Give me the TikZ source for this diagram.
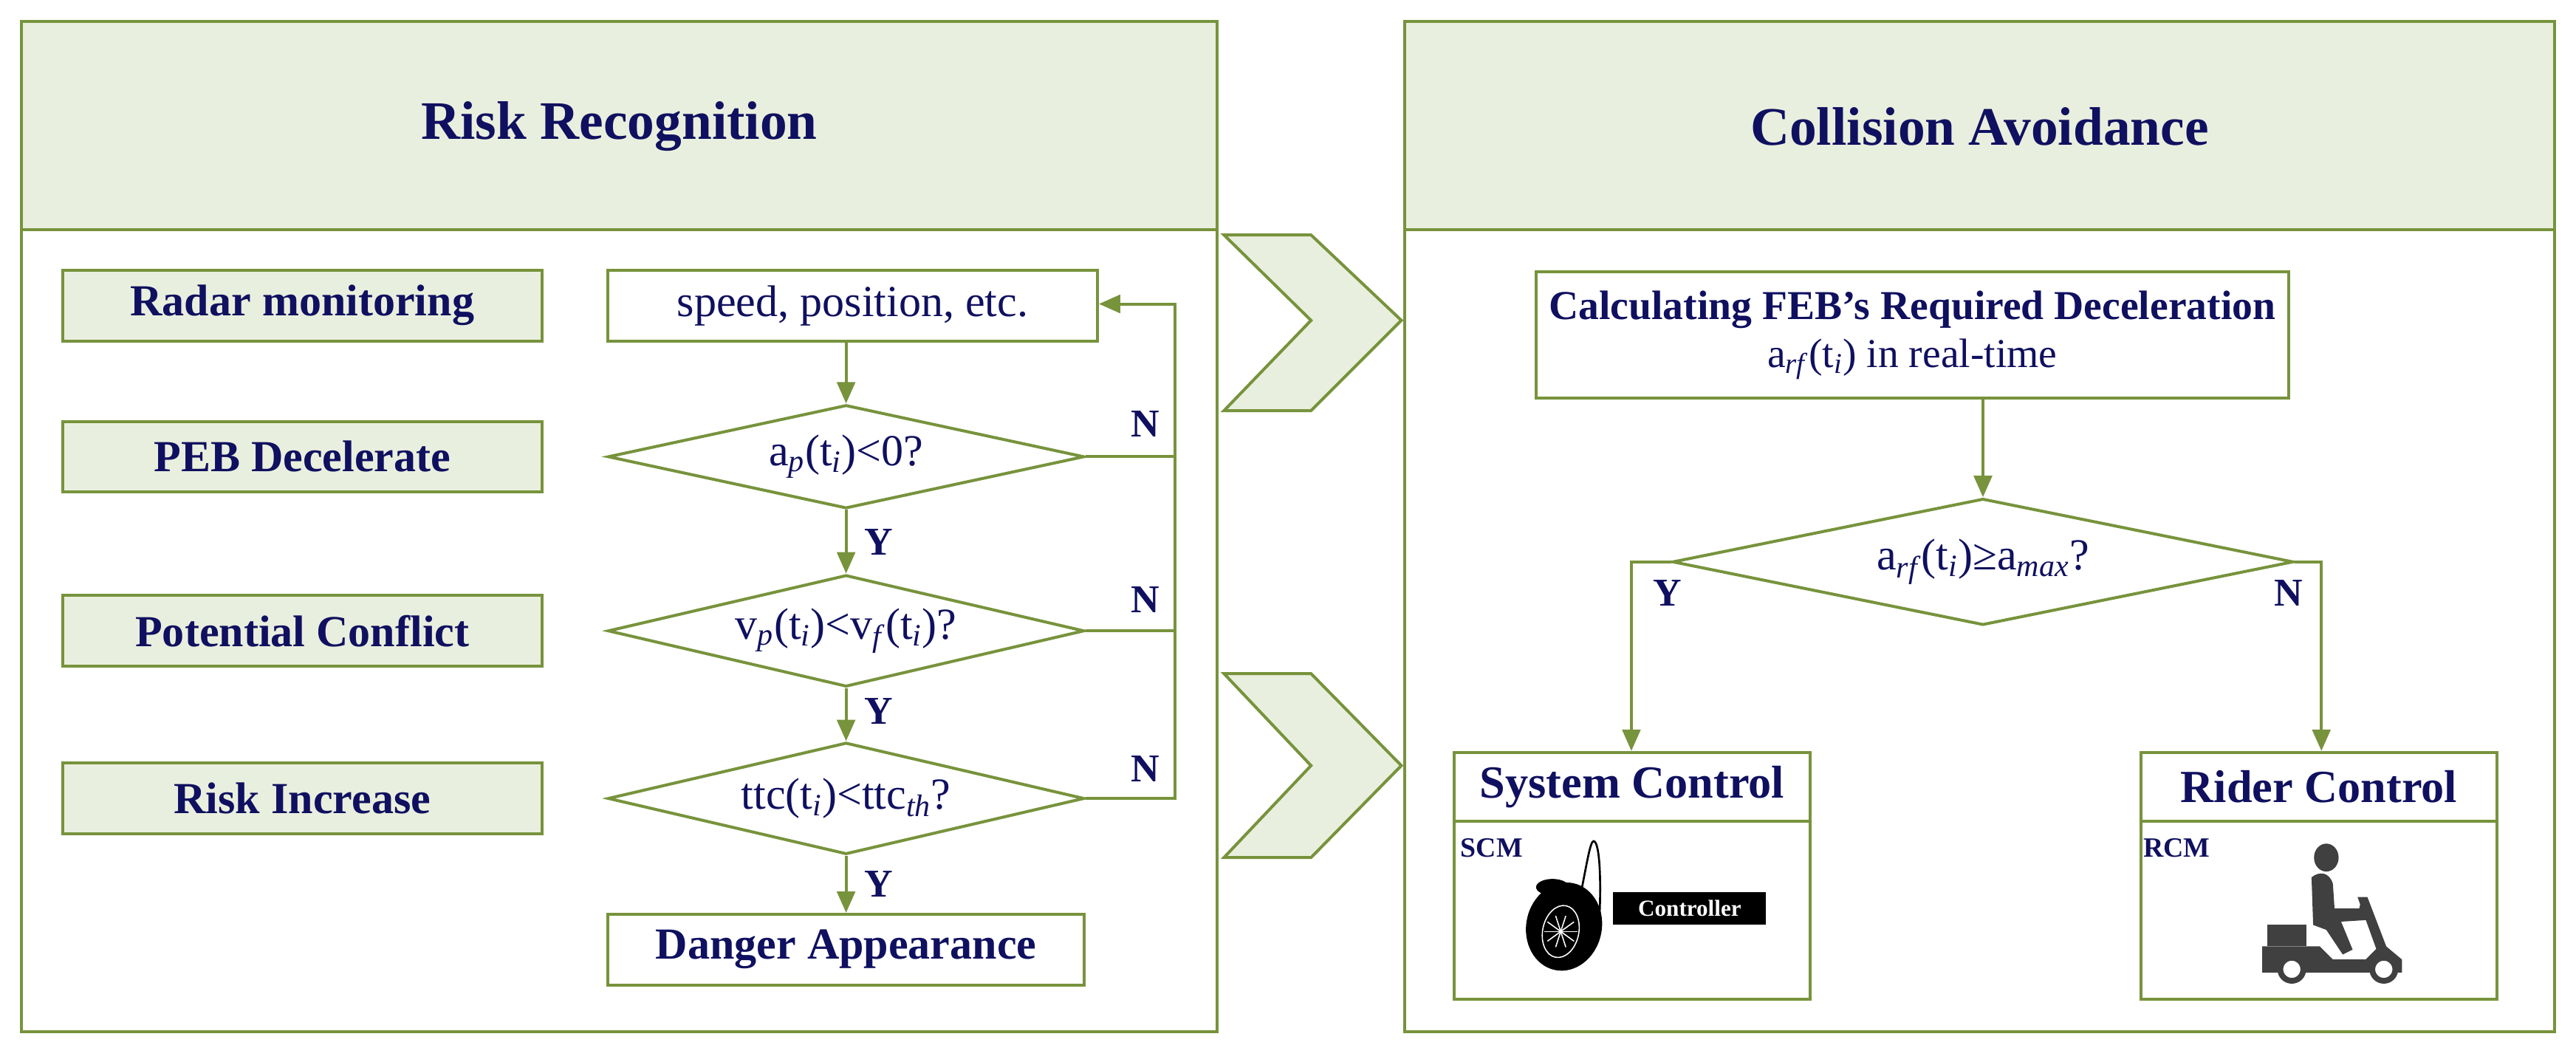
\documentclass[tikz,border=0pt]{standalone}
\usepackage{fontspec}
\setmainfont{Liberation Serif}
\usetikzlibrary{arrows.meta,shapes.geometric}
\definecolor{gr}{RGB}{119,147,60}
\definecolor{lg}{RGB}{233,239,222}
\definecolor{nv}{RGB}{16,16,96}
\begin{document}
\begin{tikzpicture}[x=1pt,y=-1pt,
  line width=1.8pt,
  hdr/.style={draw=gr,fill=lg},
  lbl/.style={draw=gr,fill=lg,minimum width=292pt,minimum height=43pt,font=\fontsize{27}{29}\selectfont\bfseries,text=nv},
  box/.style={draw=gr,fill=white,font=\fontsize{27}{29}\selectfont,text=nv},
  dia/.style={draw=gr,fill=white,diamond,aspect=4.6,inner sep=0pt,font=\fontsize{27}{29}\selectfont,text=nv},
  arr/.style={draw=gr,-{Triangle[length=13pt,width=11pt]}},
  ln/.style={draw=gr},
  yn/.style={font=\fontsize{24}{26}\selectfont\bfseries,text=nv},
  chev/.style={draw=gr,fill=lg,line width=1.8pt}]
\useasboundingbox (0,0) rectangle (1568,646);
% panels
\draw[hdr] (13,13) rectangle (741,140);
\draw[gr] (13,140) rectangle (741,628);
\draw[hdr] (855,13) rectangle (1555,140);
\draw[gr] (855,140) rectangle (1555,628);
\node[font=\fontsize{33}{35}\selectfont\bfseries,text=nv] (t1) at (377,77) {Risk Recognition};
\node[font=\fontsize{33}{35}\selectfont\bfseries,text=nv] (t2) at (1205,77) {Collision Avoidance};
% chevrons
\draw[chev] (745,143) -- (798,143) -- (853,195) -- (798,250) -- (745,250) -- (798,195) -- cycle;
\draw[chev] (745,410) -- (798,410) -- (853,466) -- (798,522) -- (745,522) -- (798,466) -- cycle;
% left labels
\node[lbl] (l1) at (184,186) {Radar monitoring};
\node[lbl] (l2) at (184,278) {PEB Decelerate};
\node[lbl] (l3) at (184,384) {Potential Conflict};
\node[lbl] (l4) at (184,486) {Risk Increase};
% flow
\node[box,minimum width=298pt,minimum height=43pt] (sp) at (519,186) {speed, position, etc.};
\node[dia,minimum width=290pt,minimum height=63pt] (d1) at (515,278) {a\textsubscript{\textit{p}}(t\textsubscript{\textit{i}})<0?};
\node[dia,minimum width=290pt,minimum height=68pt] (d2) at (515,384) {v\textsubscript{\textit{p}}(t\textsubscript{\textit{i}})<v\textsubscript{\textit{f}}(t\textsubscript{\textit{i}})?};
\node[dia,minimum width=290pt,minimum height=68pt] (d3) at (515,486) {ttc(t\textsubscript{\textit{i}})<ttc\textsubscript{\textit{th}}?};
\node[box,minimum width=290pt,minimum height=43pt,font=\fontsize{27}{29}\selectfont\bfseries] (da) at (515,578) {Danger Appearance};
\draw[arr] (sp.south -| d1.north) -- (d1.north);
\draw[arr] (d1.south) -- (d2.north);
\draw[arr] (d2.south) -- (d3.north);
\draw[arr] (d3.south) -- (da.north);
\coordinate (fb) at (715,486);
\coordinate (ft) at (715,185);
\draw[ln] (d1.east) -- (d1.east -| fb);
\draw[ln] (d2.east) -- (d2.east -| fb);
\draw[arr] (d3.east) -- (fb) -- (ft) -- (ft -| sp.east);
\node[yn] (y1) at (535,330) {Y};
\node[yn] (y2) at (535,433) {Y};
\node[yn] (y3) at (535,538) {Y};
\node[yn] (n1) at (697,258) {N};
\node[yn] (n2) at (697,365) {N};
\node[yn] (n3) at (697,468) {N};
% right
\node[box,minimum width=458pt,minimum height=77pt,align=center,font=\fontsize{25}{27}\selectfont] (feb) at (1164,204) {\textbf{Calculating FEB's Required Deceleration}\\[2pt]a\textsubscript{\textit{rf}}(t\textsubscript{\textit{i}}) in real-time};
\node[dia,minimum width=378pt,minimum height=77pt,aspect=4.9] (d4) at (1207,342) {a\textsubscript{\textit{rf}}(t\textsubscript{\textit{i}})≥a\textsubscript{\textit{max}}?};
\draw[arr] (feb.south -| d4.north) -- (d4.north);
\draw[gr] (885,500) rectangle (1102,608);
\draw[gr] (1303,500) rectangle (1520,608);
\node[box,minimum width=217pt,minimum height=42pt,font=\fontsize{28}{30}\selectfont\bfseries] (sc) at (993.5,479) {System Control};
\node[box,minimum width=217pt,minimum height=42pt,font=\fontsize{28}{30}\selectfont\bfseries] (rc) at (1411.5,479) {Rider Control};
\coordinate (yc) at (993,342);
\coordinate (nc) at (1413,342);
\draw[arr] (d4.west) -- (yc) -- (yc |- sc.north);
\draw[arr] (d4.east) -- (nc) -- (nc |- rc.north);
\node[yn] (y4) at (1015,361) {Y};
\node[yn] (n4) at (1393,361) {N};
\node[font=\fontsize{17}{18}\selectfont\bfseries,text=nv] (scm) at (908,516) {SCM};
\node[font=\fontsize{17}{18}\selectfont\bfseries,text=nv] (rcm) at (1325,516) {RCM};
% wheel icon
\draw[black,line width=1.2pt] (962,545) .. controls (966,525) and (968,512) .. (970,512) .. controls (974,512) and (975,540) .. (973,568);
\fill[black,rotate around={-12:(952,564)}] (952,564) ellipse (23pt and 27pt);
\fill[black] (945,540) ellipse (10pt and 5pt);
\draw[white,line width=0.7pt,rotate around={-12:(950,567)}] (950,567) ellipse (11pt and 16pt);
\foreach \a in {0,36,...,324}{\draw[white,line width=0.7pt] (950,567) -- ++(\a:10);}
\fill[black] (982,543) rectangle (1075,563);
\node[text=white,font=\fontsize{14}{15}\selectfont\bfseries] (ctl) at (1028.5,553) {Controller};
% rider icon
\begin{scope}[fill=black!75,draw=black!75]
\fill (1416,522) ellipse (7.5pt and 8.5pt);
\fill (1407,534) .. controls (1412,530) and (1418,531) .. (1420,538) -- (1421,553) -- (1436,553) -- (1437,549) -- (1441,549) -- (1441,560) -- (1425,561) -- (1432,578) -- (1426,581) -- (1416,566) -- (1408,563) -- cycle;
\fill (1380,563) rectangle (1404,576);
\fill (1377,576) -- (1412,576) -- (1420,584) -- (1440,584) -- (1450,574) -- (1462,584) -- (1462,592) -- (1377,592) -- cycle;
\fill (1435,546) -- (1441,546) -- (1454,580) -- (1448,582) -- cycle;
\end{scope}
\draw[black!75,line width=3.5pt,fill=white] (1395,590) circle (7pt);
\draw[black!75,line width=3.5pt,fill=white] (1451,590) circle (7pt);
\end{tikzpicture}
\end{document}
